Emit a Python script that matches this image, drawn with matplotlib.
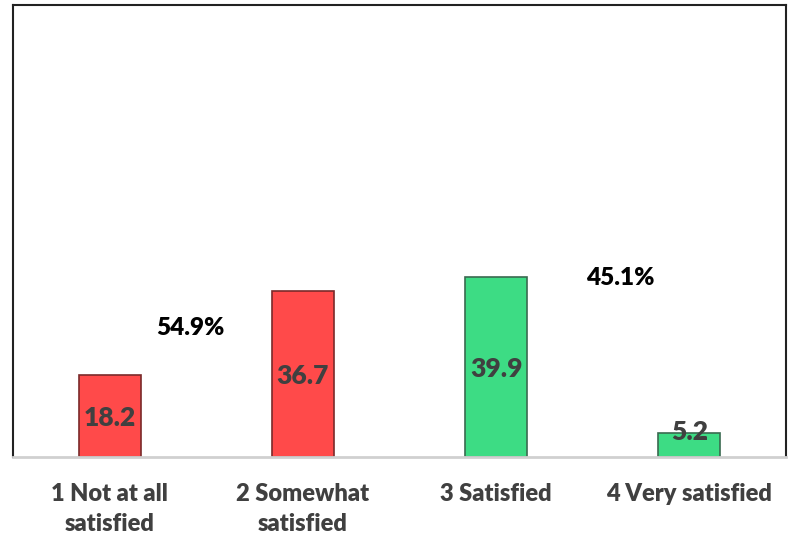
import matplotlib.pyplot as plt
import numpy as np

categories = ["1 Not at all\nsatisfied", "2 Somewhat\nsatisfied", "3 Satisfied", "4 Very satisfied"]
values = [18.2, 36.7, 39.9, 5.2]
colors = ["#ff4a4a", "#ff4a4a", "#3ddc84", "#3ddc84"]
edges = ["#7a2a2a", "#7a2a2a", "#3a6a50", "#3a6a50"]
group_labels = ["54.9%", "45.1%"]

plt.rcParams["font.family"] = ["Lato", "DejaVu Sans"]

fig = plt.figure(figsize=(7.95, 5.38), dpi=100)
ax = fig.add_axes([0.0164, 0.1506, 0.9723, 0.8401])

x = np.arange(len(categories))
ax.bar(x, values, width=0.32, color=colors, edgecolor=edges, linewidth=1.2, zorder=2)

for xi, v in zip(x, values):
    y = v / 2 - 0.4 if v > 10 else v + 0.3
    ax.text(xi, y, f"{v:.1f}", ha="center", va="center", fontsize=19,
            fontweight="heavy", color="#404040", zorder=3)

ax.text(0.42, 28.6, group_labels[0], ha="center", va="center", fontsize=17.5,
        fontweight="heavy", color="black")
ax.text(2.64, 39.7, group_labels[1], ha="center", va="center", fontsize=17.5,
        fontweight="heavy", color="black")

ax.set_xlim(-0.5, 3.5)
ax.set_ylim(0, 100)
ax.set_yticks([])
ax.set_xticks(x)
ax.set_xticklabels(categories, fontsize=17, fontweight="heavy", color="#404040",
                   linespacing=1.42)
ax.tick_params(axis="x", length=0, pad=19)

for s in ["left", "top", "right"]:
    ax.spines[s].set_color("#222222")
    ax.spines[s].set_linewidth(1.5)
ax.spines["bottom"].set_color("#d0d0d0")
ax.spines["bottom"].set_linewidth(2)

fig.savefig("out.png", dpi=100)
